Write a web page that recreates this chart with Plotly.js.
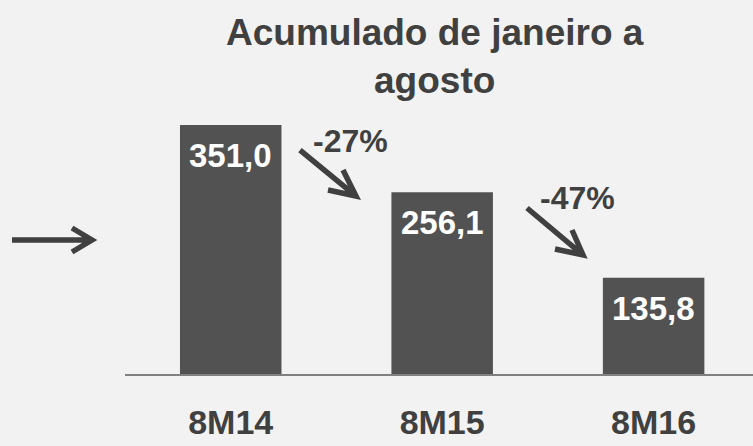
<!DOCTYPE html>
<html>
<head>
<meta charset="utf-8">
<script src="https://cdn.plot.ly/plotly-3.0.1.min.js"></script>
<style>html,body{margin:0;padding:0;background:#f2f2f2;}#chart{width:753px;height:446px;}</style>
</head>
<body>
<div id="chart"></div>
<script>
const categories = ['8M14', '8M15', '8M16'];
const values = [351.0, 256.1, 135.8];
const valueLabels = ['351,0', '256,1', '135,8'];
const changeLabels = ['-27%', '-47%'];
const titleText = 'Acumulado de janeiro a<br>agosto';

const W = 753, H = 446;
const M = {l: 125, r: 0, t: 0, b: 72};
const PW = W - M.l - M.r, PH = H - M.t - M.b;
const px = x => (x - M.l) / PW;
const py = y => (M.t + PH - y) / PH;

const FONT = 'Liberation Sans, Arial, sans-serif';
const TXT = '#404040';

function arrow(x0, y0, x1, y1, a1, a2) {
  const d = 'M' + px(x0) + ',' + py(y0) + ' L' + px(x1) + ',' + py(y1) +
            ' M' + px(a1[0]) + ',' + py(a1[1]) + ' L' + px(x1) + ',' + py(y1) +
            ' L' + px(a2[0]) + ',' + py(a2[1]);
  return {type: 'path', xref: 'paper', yref: 'paper', path: d,
          line: {color: TXT, width: 5.5}};
}

const trace = {
  type: 'bar',
  x: categories,
  y: values,
  marker: {color: '#525252', line: {width: 0}},
  hoverinfo: 'skip'
};

const annotations = [];
categories.forEach((c, i) => {
  annotations.push({
    x: c, y: values[i], xref: 'x', yref: 'y',
    text: '<b>' + valueLabels[i] + '</b>',
    showarrow: false, yanchor: 'top', yshift: -10,
    font: {family: FONT, size: 33, color: '#ffffff'}
  });
});
annotations.push({
  x: px(350), y: py(153), xref: 'paper', yref: 'paper',
  text: '<b>' + changeLabels[0] + '</b>', showarrow: false,
  xanchor: 'center', yanchor: 'bottom', yshift: -8,
  font: {family: FONT, size: 32, color: TXT}
});
annotations.push({
  x: px(577), y: py(210), xref: 'paper', yref: 'paper',
  text: '<b>' + changeLabels[1] + '</b>', showarrow: false,
  xanchor: 'center', yanchor: 'bottom', yshift: -8,
  font: {family: FONT, size: 32, color: TXT}
});
annotations.push({
  x: px(435), y: py(10), xref: 'paper', yref: 'paper',
  text: '<b>' + titleText + '</b>', showarrow: false,
  xanchor: 'center', yanchor: 'top',
  font: {family: FONT, size: 37, color: TXT}
});

const shapes = [
  arrow(300, 150, 356, 196, [343, 170], [328, 190]),
  arrow(527, 208, 583, 255, [572, 230], [555, 249]),
  arrow(12, 240, 92, 240, [72, 228], [72, 252])
];

const layout = {
  width: W, height: H,
  margin: M,
  paper_bgcolor: '#f2f2f2',
  plot_bgcolor: '#f2f2f2',
  showlegend: false,
  bargap: 0.52,
  xaxis: {
    type: 'category', range: [-0.5, 2.47],
    showline: true, linecolor: '#808080', linewidth: 2,
    showgrid: false, zeroline: false, ticks: '',
    ticklabelstandoff: 17,
    tickfont: {family: FONT, size: 34, color: TXT, weight: 'bold'}
  },
  yaxis: {visible: false, range: [0, 527], fixedrange: true},
  annotations: annotations,
  shapes: shapes
};

Plotly.newPlot('chart', [trace], layout, {displayModeBar: false, staticPlot: true});
</script>
</body>
</html>
